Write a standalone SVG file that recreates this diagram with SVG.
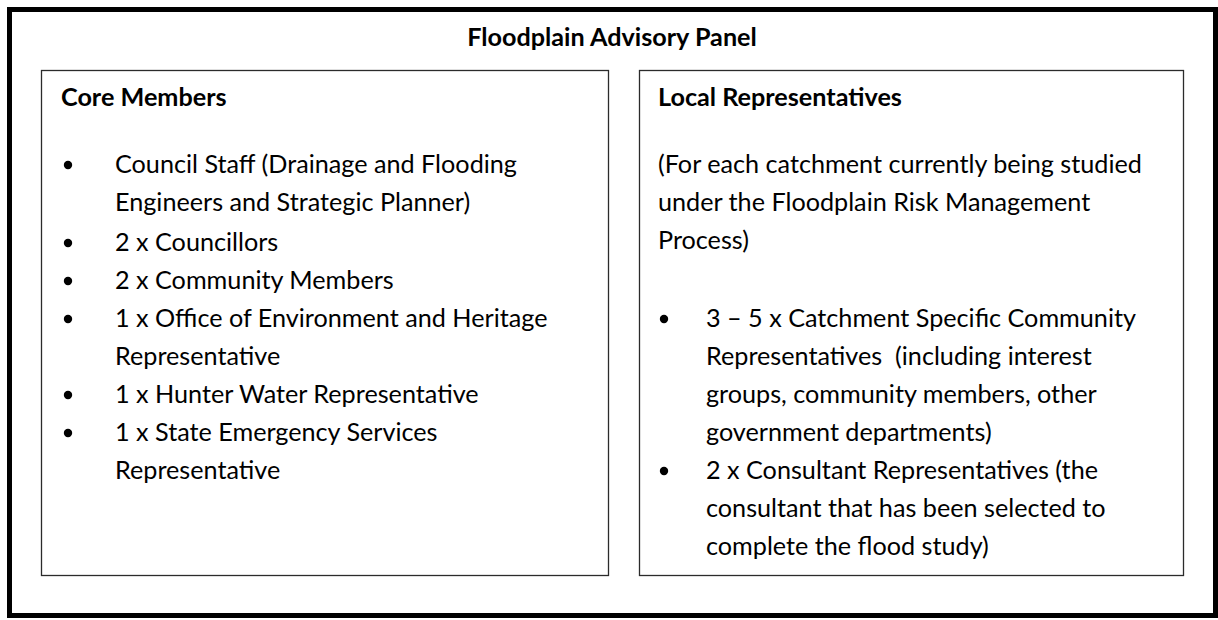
<svg xmlns="http://www.w3.org/2000/svg" width="1218" height="620" viewBox="0 0 1218 620">
  <style>
    .frame { fill: #ffffff; stroke: #000000; stroke-width: 5; }
    .box { fill: #ffffff; stroke: #2b2b2b; stroke-width: 1.3; }
    .title { font-family: Lato, "Liberation Sans", sans-serif; font-size: 25.2px; font-weight: bold; fill: #000000; }
    .txt { font-family: Lato, "Liberation Sans", sans-serif; font-size: 25.2px; fill: #000000; white-space: pre; }
    .dot { fill: #000000; }
  </style>

  <!-- outer panel -->
  <g id="panel">
    <rect class="frame" x="9.5" y="9.5" width="1206" height="606"/>
    <text class="title" x="612" y="46" text-anchor="middle">Floodplain Advisory Panel</text>
  </g>

  <!-- core members box: rows on a 38px pitch -->
  <g id="core-members">
    <rect class="box" x="41.5" y="70.5" width="567" height="505"/>
    <text class="title" x="61" y="106">Core Members</text>
    <circle class="dot" cx="68" cy="165" r="4.2"/>
    <text class="txt" x="115" y="173">Council Staff (Drainage and Flooding</text>
    <text class="txt" x="115" y="211">Engineers and Strategic Planner)</text>
    <circle class="dot" cx="68" cy="243" r="4.2"/>
    <text class="txt" x="115" y="251">2 x Councillors</text>
    <circle class="dot" cx="68" cy="281" r="4.2"/>
    <text class="txt" x="115" y="289">2 x Community Members</text>
    <circle class="dot" cx="68" cy="319" r="4.2"/>
    <text class="txt" x="115" y="327">1 x Office of Environment and Heritage</text>
    <text class="txt" x="115" y="365">Representative</text>
    <circle class="dot" cx="68" cy="395" r="4.2"/>
    <text class="txt" x="115" y="403">1 x Hunter Water Representative</text>
    <circle class="dot" cx="68" cy="433" r="4.2"/>
    <text class="txt" x="115" y="441">1 x State Emergency Services</text>
    <text class="txt" x="115" y="479">Representative</text>
  </g>

  <!-- local representatives box -->
  <g id="local-representatives">
    <rect class="box" x="639.5" y="70.5" width="544" height="505"/>
    <text class="title" x="658" y="106">Local Representatives</text>
    <text class="txt" x="658" y="173">(For each catchment currently being studied</text>
    <text class="txt" x="658" y="211">under the Floodplain Risk Management</text>
    <text class="txt" x="658" y="249">Process)</text>
    <circle class="dot" cx="664" cy="319" r="4.2"/>
    <text class="txt" x="706" y="327">3 – 5 x Catchment Specific Community</text>
    <text class="txt" x="706" y="365" xml:space="preserve">Representatives  (including interest</text>
    <text class="txt" x="706" y="403">groups, community members, other</text>
    <text class="txt" x="706" y="441">government departments)</text>
    <circle class="dot" cx="664" cy="471" r="4.2"/>
    <text class="txt" x="706" y="479">2 x Consultant Representatives (the</text>
    <text class="txt" x="706" y="517">consultant that has been selected to</text>
    <text class="txt" x="706" y="555">complete the flood study)</text>
  </g>
</svg>
